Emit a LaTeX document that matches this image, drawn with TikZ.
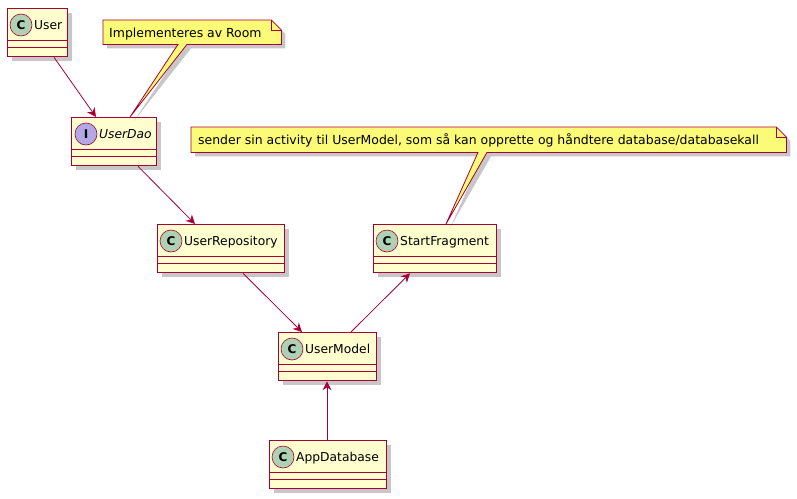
\documentclass[tikz,border=0pt]{standalone}
\usepackage{fontspec}
\setmainfont{DejaVu Sans}
\usepackage{xcolor}
\usepackage{tikz}
\usetikzlibrary{calc, positioning, shadows, arrows.meta}

\definecolor{umlborder}{HTML}{A80036}
\definecolor{umlfill}{HTML}{FEFECE}
\definecolor{notefill}{HTML}{FBFB77}
\definecolor{classcirc}{HTML}{ADD1B2}
\definecolor{ifacecirc}{HTML}{B4A7E5}

\begin{document}
\begin{tikzpicture}[x=1pt,y=-1pt,
                    umlshadow/.style={drop shadow={shadow xshift=4pt,shadow yshift=-4pt,fill=black,opacity=0.22}},
                    class box/.style={draw=umlborder,fill=umlfill,line width=1.3pt,rectangle,anchor=north west,inner sep=0pt,minimum height=48pt,umlshadow},
                    sep line/.style={draw=umlborder,line width=0.9pt},
                    class circle/.style={circle,draw=umlborder,line width=0.6pt,minimum size=22pt,inner sep=0pt,font=\bfseries\fontsize{12}{12}\selectfont},
                    class name/.style={anchor=base west,inner sep=0pt,font=\fontsize{12.3}{14}\selectfont},
                    note box/.style={draw=none,rectangle,anchor=north west,inner sep=0pt},
                    note line/.style={draw=umlborder,fill=notefill,line width=0.8pt,umlshadow},
                    note text/.style={anchor=base west,inner sep=0pt,font=\fontsize{12.45}{15}\selectfont},
                    link/.style={draw=umlborder,line width=0.8pt,-{Stealth[length=9pt,width=9pt,inset=3pt]}}]

\useasboundingbox (0,0) rectangle (797,498);

%Classes
 \foreach \nm/\x/\y/\w in {User/7/8/60, UserRepository/157/224/127, StartFragment/373/224/123, UserModel/278/332/98, AppDatabase/269/440/117}
    {\node [class box,minimum width=\w] (\nm) at (\x,\y) {};
     \draw[sep line] ($(\nm.north west)+(0,32.5)$) -- ($(\nm.north east)+(0,32.5)$)
                     ($(\nm.north west)+(0,39.5)$) -- ($(\nm.north east)+(0,39.5)$);
     \node[class circle,fill=classcirc] (\nm Circle) at ($(\nm.north west)+(14,17)$) {C};
     \node[class name] (\nm Name) at ($(\nm.north west)+(27,21)$) {\nm};}

%Interface
 \node [class box,minimum width=85] (UserDao) at (71,117) {};
 \draw[sep line] ($(UserDao.north west)+(0,32.5)$) -- ($(UserDao.north east)+(0,32.5)$)
                 ($(UserDao.north west)+(0,39.5)$) -- ($(UserDao.north east)+(0,39.5)$);
 \node[class circle,fill=ifacecirc] (UserDaoCircle) at ($(UserDao.north west)+(15,17)$) {I};
 \node[class name,font=\itshape\fontsize{12.3}{14}\selectfont] (UserDaoName) at ($(UserDao.north west)+(28,21)$) {UserDao};

%Notes
 \node[note box,minimum width=178,minimum height=24] (RoomNote) at (103,20) {};
 \path[note line] (RoomNote.north west) -- ($(RoomNote.north east)+(-10,0)$) -- ($(RoomNote.north east)+(0,10)$)
     -- (RoomNote.south east) -- ($(RoomNote.south west)+(84,0)$) -- ($(UserDao.north west)+(59,0)$)
     -- ($(RoomNote.south west)+(75,0)$) -- (RoomNote.south west) -- cycle;
 \draw[umlborder,line width=0.8pt] ($(RoomNote.north east)+(-10,0)$) -- ($(RoomNote.north east)+(-10,10)$) -- ($(RoomNote.north east)+(0,10)$);
 \node[note text] (RoomText) at ($(RoomNote.north west)+(6,17)$) {Implementeres av Room};

 \node[note box,minimum width=595,minimum height=25] (FragNote) at (191,127) {};
 \path[note line] (FragNote.north west) -- ($(FragNote.north east)+(-10,0)$) -- ($(FragNote.north east)+(0,10)$)
     -- (FragNote.south east) -- ($(FragNote.south west)+(296,0)$) -- ($(StartFragment.north west)+(73,0)$)
     -- ($(FragNote.south west)+(287,0)$) -- (FragNote.south west) -- cycle;
 \draw[umlborder,line width=0.8pt] ($(FragNote.north east)+(-10,0)$) -- ($(FragNote.north east)+(-10,10)$) -- ($(FragNote.north east)+(0,10)$);
 \node[note text] (FragText) at ($(FragNote.north west)+(7,17)$) {sender sin activity til UserModel, som så kan opprette og håndtere database/databasekall};

%Links
 \draw[link] ($(User.south west)+(47,0)$) -- ($(UserDao.north west)+(25,0)$);
 \draw[link] ($(UserDao.south west)+(67,0)$) -- ($(UserRepository.north west)+(38,0)$);
 \draw[link] ($(UserRepository.south west)+(86,0)$) -- ($(UserModel.north west)+(24,0)$);
 \draw[link] ($(UserModel.north west)+(73,0)$) -- ($(StartFragment.south west)+(37,0)$);
 \draw[link] ($(AppDatabase.north west)+(58,0)$) -- ($(UserModel.south west)+(49,0)$);

\end{tikzpicture}
\end{document}
